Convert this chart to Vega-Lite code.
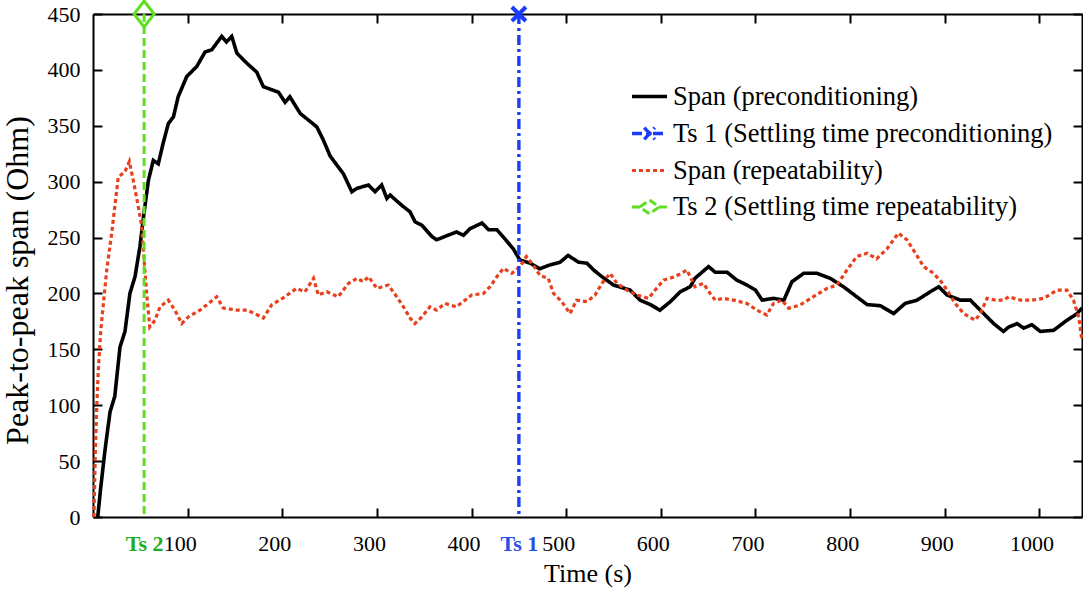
{
  "$schema": "https://vega.github.io/schema/vega-lite/v6.json",
  "width": 989,
  "height": 503,
  "autosize": "none",
  "padding": {"left": 93, "top": 14, "right": 1, "bottom": 79},
  "background": "white",
  "config": {
    "font": "Liberation Serif",
    "view": {"stroke": null},
    "axis": {
      "domainColor": "black", "domainWidth": 2,
      "tickColor": "black", "tickWidth": 2, "tickSize": -9,
      "labelFont": "Liberation Serif", "labelFontSize": 22, "labelColor": "black",
      "titleFont": "Liberation Serif", "titleFontSize": 26, "titleFontWeight": "normal", "titleColor": "black",
      "grid": false
    }
  },
  "datasets": {
    "curves": [
      {"series":"Span (preconditioning)","t":5,"v":0},{"series":"Span (preconditioning)","t":8,"v":25},{"series":"Span (preconditioning)","t":12.7,"v":60},{"series":"Span (preconditioning)","t":18,"v":94},{"series":"Span (preconditioning)","t":23,"v":108},{"series":"Span (preconditioning)","t":28.5,"v":152},{"series":"Span (preconditioning)","t":33.8,"v":166},{"series":"Span (preconditioning)","t":39,"v":200},{"series":"Span (preconditioning)","t":44.4,"v":215},{"series":"Span (preconditioning)","t":49.6,"v":242},{"series":"Span (preconditioning)","t":53,"v":266},{"series":"Span (preconditioning)","t":58.5,"v":301},{"series":"Span (preconditioning)","t":63.7,"v":319},{"series":"Span (preconditioning)","t":69,"v":316},{"series":"Span (preconditioning)","t":74,"v":334},{"series":"Span (preconditioning)","t":79.6,"v":352},{"series":"Span (preconditioning)","t":85,"v":358},{"series":"Span (preconditioning)","t":90,"v":376},{"series":"Span (preconditioning)","t":99,"v":394},{"series":"Span (preconditioning)","t":109.6,"v":403},{"series":"Span (preconditioning)","t":118.4,"v":416},{"series":"Span (preconditioning)","t":125.5,"v":418},{"series":"Span (preconditioning)","t":136,"v":430},{"series":"Span (preconditioning)","t":141,"v":425},{"series":"Span (preconditioning)","t":146.6,"v":430},{"series":"Span (preconditioning)","t":152,"v":415},{"series":"Span (preconditioning)","t":162.5,"v":406},{"series":"Span (preconditioning)","t":173,"v":398},{"series":"Span (preconditioning)","t":180,"v":385},{"series":"Span (preconditioning)","t":196,"v":380},{"series":"Span (preconditioning)","t":203,"v":371},{"series":"Span (preconditioning)","t":208,"v":376},{"series":"Span (preconditioning)","t":219,"v":361},{"series":"Span (preconditioning)","t":236.5,"v":349},{"series":"Span (preconditioning)","t":243.5,"v":337},{"series":"Span (preconditioning)","t":250.5,"v":323},{"series":"Span (preconditioning)","t":264.6,"v":307},{"series":"Span (preconditioning)","t":273.5,"v":291},{"series":"Span (preconditioning)","t":278.8,"v":294},{"series":"Span (preconditioning)","t":291,"v":297},{"series":"Span (preconditioning)","t":298,"v":291},{"series":"Span (preconditioning)","t":305,"v":297},{"series":"Span (preconditioning)","t":310.5,"v":285},{"series":"Span (preconditioning)","t":314,"v":288},{"series":"Span (preconditioning)","t":326,"v":279},{"series":"Span (preconditioning)","t":335,"v":273},{"series":"Span (preconditioning)","t":340.4,"v":264},{"series":"Span (preconditioning)","t":347.5,"v":261},{"series":"Span (preconditioning)","t":358,"v":251},{"series":"Span (preconditioning)","t":363,"v":248},{"series":"Span (preconditioning)","t":372,"v":251},{"series":"Span (preconditioning)","t":384,"v":255},{"series":"Span (preconditioning)","t":391.4,"v":252},{"series":"Span (preconditioning)","t":398.5,"v":258},{"series":"Span (preconditioning)","t":411,"v":263},{"series":"Span (preconditioning)","t":418,"v":257},{"series":"Span (preconditioning)","t":426.7,"v":257},{"series":"Span (preconditioning)","t":435,"v":249},{"series":"Span (preconditioning)","t":444,"v":240},{"series":"Span (preconditioning)","t":451,"v":230},{"series":"Span (preconditioning)","t":462,"v":227},{"series":"Span (preconditioning)","t":472,"v":222},{"series":"Span (preconditioning)","t":481,"v":225},{"series":"Span (preconditioning)","t":493.6,"v":228},{"series":"Span (preconditioning)","t":502,"v":234},{"series":"Span (preconditioning)","t":513,"v":228},{"series":"Span (preconditioning)","t":522,"v":227},{"series":"Span (preconditioning)","t":529,"v":221},{"series":"Span (preconditioning)","t":537.7,"v":215},{"series":"Span (preconditioning)","t":550,"v":207.5},{"series":"Span (preconditioning)","t":567.6,"v":203},{"series":"Span (preconditioning)","t":578,"v":194},{"series":"Span (preconditioning)","t":589,"v":190},{"series":"Span (preconditioning)","t":599,"v":185},{"series":"Span (preconditioning)","t":610,"v":192.6},{"series":"Span (preconditioning)","t":620.5,"v":201.5},{"series":"Span (preconditioning)","t":631,"v":206},{"series":"Span (preconditioning)","t":636,"v":213.5},{"series":"Span (preconditioning)","t":650.4,"v":224},{"series":"Span (preconditioning)","t":657.4,"v":219},{"series":"Span (preconditioning)","t":670,"v":219},{"series":"Span (preconditioning)","t":680,"v":212},{"series":"Span (preconditioning)","t":691,"v":207.5},{"series":"Span (preconditioning)","t":700,"v":203},{"series":"Span (preconditioning)","t":707,"v":194},{"series":"Span (preconditioning)","t":719,"v":195.6},{"series":"Span (preconditioning)","t":730,"v":194},{"series":"Span (preconditioning)","t":738.5,"v":210.5},{"series":"Span (preconditioning)","t":751,"v":218},{"series":"Span (preconditioning)","t":765,"v":218},{"series":"Span (preconditioning)","t":779,"v":213.5},{"series":"Span (preconditioning)","t":793,"v":206},{"series":"Span (preconditioning)","t":807,"v":197},{"series":"Span (preconditioning)","t":818,"v":190},{"series":"Span (preconditioning)","t":832,"v":189},{"series":"Span (preconditioning)","t":846,"v":182},{"series":"Span (preconditioning)","t":858,"v":191},{"series":"Span (preconditioning)","t":870.7,"v":194},{"series":"Span (preconditioning)","t":884.7,"v":201.5},{"series":"Span (preconditioning)","t":893.6,"v":206},{"series":"Span (preconditioning)","t":902.4,"v":198.6},{"series":"Span (preconditioning)","t":916.5,"v":194},{"series":"Span (preconditioning)","t":927,"v":194},{"series":"Span (preconditioning)","t":937.6,"v":185},{"series":"Span (preconditioning)","t":951.7,"v":173},{"series":"Span (preconditioning)","t":962,"v":166},{"series":"Span (preconditioning)","t":967.6,"v":170},{"series":"Span (preconditioning)","t":976.4,"v":173},{"series":"Span (preconditioning)","t":983.4,"v":169},{"series":"Span (preconditioning)","t":992,"v":172},{"series":"Span (preconditioning)","t":1001,"v":166},{"series":"Span (preconditioning)","t":1015,"v":167},{"series":"Span (preconditioning)","t":1029,"v":176},{"series":"Span (preconditioning)","t":1040,"v":182},{"series":"Span (preconditioning)","t":1045,"v":187},
      {"series":"Span (repeatability)","t":1,"v":0},{"series":"Span (repeatability)","t":2,"v":40},{"series":"Span (repeatability)","t":2.5,"v":60},{"series":"Span (repeatability)","t":4,"v":100},{"series":"Span (repeatability)","t":5.6,"v":131},{"series":"Span (repeatability)","t":8,"v":165},{"series":"Span (repeatability)","t":11,"v":191},{"series":"Span (repeatability)","t":14.5,"v":221},{"series":"Span (repeatability)","t":19.8,"v":254},{"series":"Span (repeatability)","t":23,"v":277.5},{"series":"Span (repeatability)","t":26.7,"v":304},{"series":"Span (repeatability)","t":33.8,"v":309},{"series":"Span (repeatability)","t":38.4,"v":318},{"series":"Span (repeatability)","t":42.6,"v":301},{"series":"Span (repeatability)","t":47.9,"v":277.5},{"series":"Span (repeatability)","t":51.5,"v":260},{"series":"Span (repeatability)","t":54,"v":230},{"series":"Span (repeatability)","t":56.7,"v":200},{"series":"Span (repeatability)","t":60,"v":170},{"series":"Span (repeatability)","t":65.5,"v":176},{"series":"Span (repeatability)","t":70.8,"v":188},{"series":"Span (repeatability)","t":79.6,"v":194},{"series":"Span (repeatability)","t":86.6,"v":185},{"series":"Span (repeatability)","t":93.8,"v":173},{"series":"Span (repeatability)","t":100.7,"v":179},{"series":"Span (repeatability)","t":113,"v":185},{"series":"Span (repeatability)","t":122,"v":191},{"series":"Span (repeatability)","t":130.7,"v":197},{"series":"Span (repeatability)","t":137.7,"v":187},{"series":"Span (repeatability)","t":152,"v":185},{"series":"Span (repeatability)","t":162.5,"v":185},{"series":"Span (repeatability)","t":171,"v":182},{"series":"Span (repeatability)","t":180,"v":178},{"series":"Span (repeatability)","t":189,"v":190},{"series":"Span (repeatability)","t":201,"v":196},{"series":"Span (repeatability)","t":215,"v":204.5},{"series":"Span (repeatability)","t":224,"v":201.5},{"series":"Span (repeatability)","t":233,"v":213.5},{"series":"Span (repeatability)","t":238,"v":198.6},{"series":"Span (repeatability)","t":247,"v":201.5},{"series":"Span (repeatability)","t":259,"v":197},{"series":"Span (repeatability)","t":270,"v":209},{"series":"Span (repeatability)","t":279,"v":213.5},{"series":"Span (repeatability)","t":285.7,"v":210.5},{"series":"Span (repeatability)","t":291,"v":215},{"series":"Span (repeatability)","t":300,"v":204.5},{"series":"Span (repeatability)","t":312,"v":207.5},{"series":"Span (repeatability)","t":321,"v":197},{"series":"Span (repeatability)","t":328,"v":188},{"series":"Span (repeatability)","t":335,"v":178},{"series":"Span (repeatability)","t":340,"v":173},{"series":"Span (repeatability)","t":347.5,"v":179},{"series":"Span (repeatability)","t":356,"v":188},{"series":"Span (repeatability)","t":363,"v":185},{"series":"Span (repeatability)","t":372,"v":191},{"series":"Span (repeatability)","t":384,"v":188},{"series":"Span (repeatability)","t":391,"v":192.6},{"series":"Span (repeatability)","t":400,"v":198.6},{"series":"Span (repeatability)","t":412.6,"v":200},{"series":"Span (repeatability)","t":419.6,"v":206},{"series":"Span (repeatability)","t":426.7,"v":215},{"series":"Span (repeatability)","t":433.7,"v":222.5},{"series":"Span (repeatability)","t":442.5,"v":218},{"series":"Span (repeatability)","t":451,"v":224},{"series":"Span (repeatability)","t":458,"v":233},{"series":"Span (repeatability)","t":465.4,"v":225},{"series":"Span (repeatability)","t":472.4,"v":216},{"series":"Span (repeatability)","t":481,"v":213.5},{"series":"Span (repeatability)","t":486.6,"v":200},{"series":"Span (repeatability)","t":495.4,"v":192.6},{"series":"Span (repeatability)","t":504,"v":182},{"series":"Span (repeatability)","t":511,"v":194},{"series":"Span (repeatability)","t":522,"v":192.6},{"series":"Span (repeatability)","t":530.5,"v":198.6},{"series":"Span (repeatability)","t":537.7,"v":209},{"series":"Span (repeatability)","t":546.5,"v":218},{"series":"Span (repeatability)","t":553.6,"v":209},{"series":"Span (repeatability)","t":564,"v":203},{"series":"Span (repeatability)","t":574.7,"v":198.6},{"series":"Span (repeatability)","t":587,"v":195.6},{"series":"Span (repeatability)","t":594,"v":203},{"series":"Span (repeatability)","t":603,"v":212},{"series":"Span (repeatability)","t":615,"v":215},{"series":"Span (repeatability)","t":627.6,"v":221},{"series":"Span (repeatability)","t":636,"v":206},{"series":"Span (repeatability)","t":645,"v":209},{"series":"Span (repeatability)","t":652,"v":200},{"series":"Span (repeatability)","t":657.4,"v":194},{"series":"Span (repeatability)","t":666,"v":195.6},{"series":"Span (repeatability)","t":677,"v":194},{"series":"Span (repeatability)","t":691,"v":191},{"series":"Span (repeatability)","t":701.5,"v":185},{"series":"Span (repeatability)","t":712,"v":180.7},{"series":"Span (repeatability)","t":719,"v":191},{"series":"Span (repeatability)","t":728,"v":194},{"series":"Span (repeatability)","t":735,"v":186.7},{"series":"Span (repeatability)","t":747,"v":189.6},{"series":"Span (repeatability)","t":761,"v":197},{"series":"Span (repeatability)","t":775.5,"v":204.5},{"series":"Span (repeatability)","t":786,"v":207.5},{"series":"Span (repeatability)","t":796.7,"v":221},{"series":"Span (repeatability)","t":807,"v":233},{"series":"Span (repeatability)","t":818,"v":236},{"series":"Span (repeatability)","t":828,"v":231},{"series":"Span (repeatability)","t":839,"v":240},{"series":"Span (repeatability)","t":851,"v":254},{"series":"Span (repeatability)","t":860,"v":248},{"series":"Span (repeatability)","t":869,"v":236},{"series":"Span (repeatability)","t":877.7,"v":224},{"series":"Span (repeatability)","t":886.5,"v":219},{"series":"Span (repeatability)","t":895,"v":212},{"series":"Span (repeatability)","t":902.4,"v":203},{"series":"Span (repeatability)","t":911,"v":191},{"series":"Span (repeatability)","t":920,"v":182},{"series":"Span (repeatability)","t":932,"v":176},{"series":"Span (repeatability)","t":937.6,"v":182},{"series":"Span (repeatability)","t":944.7,"v":195.6},{"series":"Span (repeatability)","t":953.4,"v":194},{"series":"Span (repeatability)","t":962,"v":194},{"series":"Span (repeatability)","t":967.6,"v":197},{"series":"Span (repeatability)","t":980,"v":194},{"series":"Span (repeatability)","t":992,"v":194},{"series":"Span (repeatability)","t":1004.5,"v":195.6},{"series":"Span (repeatability)","t":1018.7,"v":203},{"series":"Span (repeatability)","t":1029,"v":203},{"series":"Span (repeatability)","t":1036,"v":194},{"series":"Span (repeatability)","t":1041.5,"v":179},{"series":"Span (repeatability)","t":1045,"v":158}
    ],
    "settling": [
      {"series": "Ts 1 (Settling time preconditioning)", "t": 450, "v": 450},
      {"series": "Ts 2 (Settling time repeatability)", "t": 54, "v": 450}
    ]
  },
  "layer": [
    {
      "data": {"name": "curves"},
      "mark": {"type": "line"},
      "encoding": {
        "x": {
          "field": "t", "type": "quantitative",
          "scale": {"domain": [0, 1045], "nice": false, "zero": false},
          "axis": {
            "orient": "bottom",
            "title": "Time (s)",
            "format": "d",
            "values": [54, 100, 200, 300, 400, 450, 500, 600, 700, 800, 900, 1000],
            "labelExpr": "datum.value == 54 ? 'Ts 2' : datum.value == 450 ? 'Ts 1' : datum.label",
            "labelColor": {"condition": [{"test": "datum.value == 54", "value": "#1fae1f"}, {"test": "datum.value == 450", "value": "#2a4fe6"}], "value": "black"},
            "labelFontWeight": {"condition": {"test": "datum.value == 54 || datum.value == 450", "value": "bold"}, "value": "normal"},
            "labelOffset": {"condition": {"test": "datum.value == 54 || datum.value == 450", "value": 0}, "value": -8},
            "tickOpacity": {"condition": {"test": "datum.value == 54 || datum.value == 450", "value": 0}, "value": 1},
            "labelPadding": 25,
            "titlePadding": 6
          }
        },
        "y": {
          "field": "v", "type": "quantitative",
          "scale": {"domain": [0, 450], "nice": false},
          "axis": {
            "orient": "left",
            "title": "Peak-to-peak span (Ohm)",
            "titleFontSize": 32,
            "titleY": 266,
            "values": [0, 50, 100, 150, 200, 250, 300, 350, 400, 450],
            "labelPadding": 22,
            "titlePadding": 13
          }
        },
        "color": {
          "field": "series", "type": "nominal",
          "scale": {
            "domain": ["Span (preconditioning)", "Ts 1 (Settling time preconditioning)", "Span (repeatability)", "Ts 2 (Settling time repeatability)"],
            "range": ["#000000", "#1b3cff", "#e8401c", "#5ee021"]
          },
          "legend": {
            "orient": "none", "legendX": 537, "legendY": 63,
            "title": null, "padding": 0,
            "labelFont": "Liberation Serif", "labelFontSize": 26.5, "labelColor": "black", "labelLimit": 700,
            "symbolType": "stroke", "symbolSize": 1225, "symbolStrokeWidth": 3,
            "labelOffset": 4, "rowPadding": 4,
            "encode": {
              "symbols": {
                "update": {
                  "shape": {"signal": "datum.value === 'Ts 1 (Settling time preconditioning)' ? 'M-1,0L1,0M-0.3,-0.33L0.3,0.33M-0.3,0.33L0.3,-0.33' : datum.value === 'Ts 2 (Settling time repeatability)' ? 'M-1,0L-0.55,0M0.55,0L1,0M-0.55,0L0,-0.4L0.55,0L0,0.4Z' : 'stroke'"},
                  "strokeDash": {"signal": "datum.value === 'Span (repeatability)' ? [4, 3] : [1, 0]"},
                  "strokeWidth": {"signal": "datum.value === 'Span (repeatability)' ? 4.5 : 3.2"}
                }
              }
            }
          }
        },
        "strokeDash": {
          "field": "series", "type": "nominal",
          "scale": {
            "domain": ["Span (preconditioning)", "Ts 1 (Settling time preconditioning)", "Span (repeatability)", "Ts 2 (Settling time repeatability)"],
            "range": [[1, 0], [10, 4, 3, 4], [4, 3], [8, 4]]
          }
        },
        "strokeWidth": {
          "field": "series", "type": "nominal",
          "scale": {
            "domain": ["Span (preconditioning)", "Ts 1 (Settling time preconditioning)", "Span (repeatability)", "Ts 2 (Settling time repeatability)"],
            "range": [3.6, 3, 4.6, 3]
          },
          "legend": null
        }
      }
    },
    {
      "data": {"name": "settling"},
      "mark": {"type": "rule"},
      "encoding": {
        "x": {
          "field": "t", "type": "quantitative",
          "axis": {"orient": "top", "title": null, "labels": false, "values": [100, 200, 300, 400, 500, 600, 700, 800, 900, 1000]}
        },
        "color": {"field": "series", "type": "nominal"},
        "strokeDash": {"field": "series", "type": "nominal"},
        "strokeWidth": {"field": "series", "type": "nominal", "legend": null}
      }
    },
    {
      "data": {"name": "settling"},
      "transform": [{"filter": "datum.t == 450"}],
      "mark": {"type": "point", "shape": "M-1,-1L1,1M-1,1L1,-1", "size": 196, "filled": false, "stroke": "#1b3cff", "strokeWidth": 4, "opacity": 1},
      "encoding": {
        "x": {"field": "t", "type": "quantitative", "axis": null},
        "y": {
          "field": "v", "type": "quantitative",
          "axis": {"orient": "right", "title": null, "labels": false, "values": [0, 50, 100, 150, 200, 250, 300, 350, 400, 450]}
        }
      }
    },
    {
      "data": {"name": "settling"},
      "transform": [{"filter": "datum.t == 54"}],
      "mark": {"type": "point", "shape": "M0,-1.3L1,0L0,1.3L-1,0Z", "size": 400, "filled": false, "stroke": "#5ee021", "strokeWidth": 3, "opacity": 1},
      "encoding": {
        "x": {"field": "t", "type": "quantitative", "axis": null},
        "y": {"field": "v", "type": "quantitative", "axis": null}
      }
    }
  ],
  "resolve": {"axis": {"x": "independent", "y": "independent"}}
}
